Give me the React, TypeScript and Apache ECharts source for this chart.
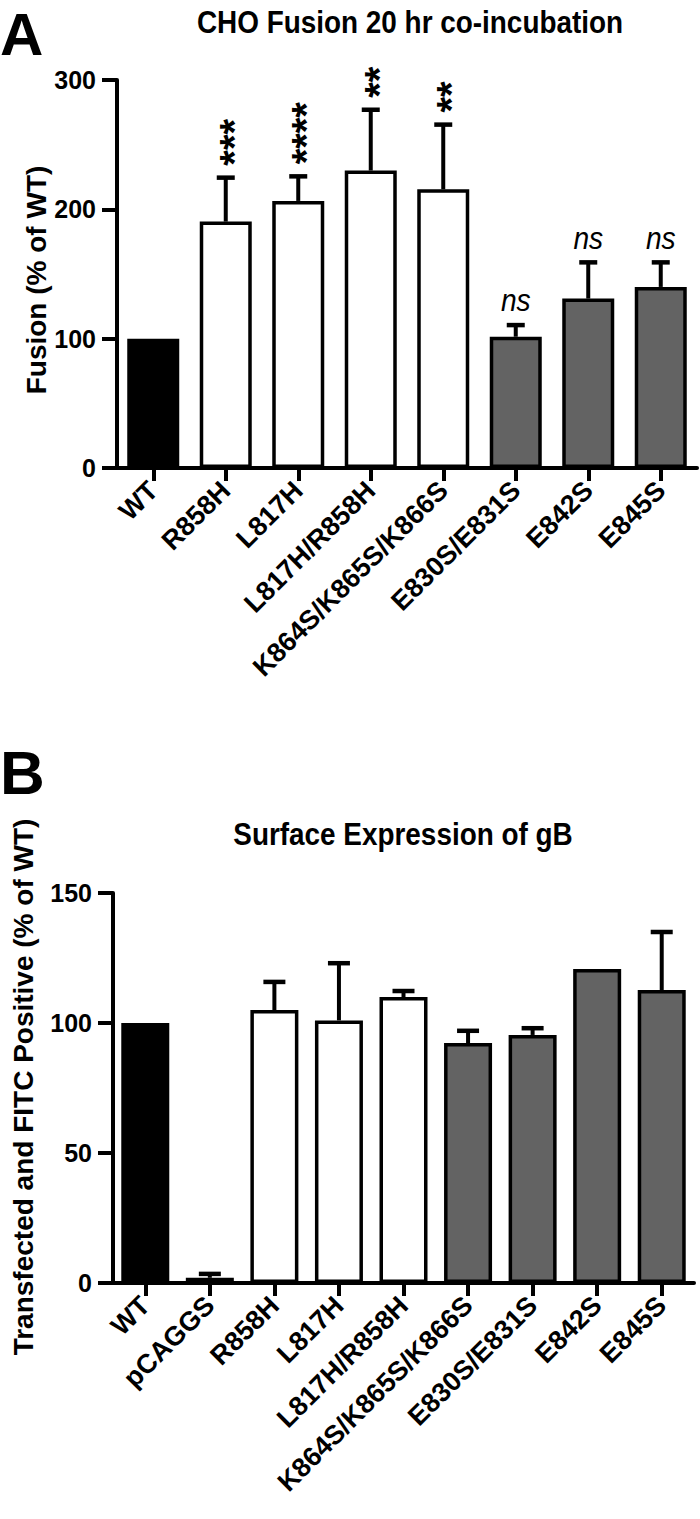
import React, { useEffect, useRef } from "react";
import * as echarts from "echarts";

// ---------- Panel A data ----------
const catsA = ["WT", "R858H", "L817H", "L817H/R858H", "K864S/K865S/K866S", "E830S/E831S", "E842S", "E845S"];
const valsA = [100, 190.5, 206.5, 230, 215.5, 101.5, 131, 140];
const errA = [0, 34, 19, 47, 50, 9, 28, 19];
const sigA = ["", "***", "****", "**", "**", "ns", "ns", "ns"];
const groupA = ["wt", "mut", "mut", "mut", "mut", "ser", "ser", "ser"];
const ticksA = { min: 0, max: 300, interval: 100 };

// ---------- Panel B data ----------
const catsB = ["WT", "pCAGGS", "R858H", "L817H", "L817H/R858H", "K864S/K865S/K866S", "E830S/E831S", "E842S", "E845S"];
const valsB = [100, 2, 105, 101, 110, 92.3, 95.4, 120.8, 112.7];
const errB = [0, 1.5, 10.8, 22, 2.3, 4.7, 2.6, 0, 22.3];
const groupB = ["wt", "mut", "mut", "mut", "mut", "ser", "ser", "ser", "ser"];
const ticksB = { min: 0, max: 150, interval: 50 };

const titleA = "CHO Fusion 20 hr co-incubation";
const titleB = "Surface Expression of gB";
const yNameA = "Fusion (% of WT)";
const yNameB = "Transfected and FITC Positive (% of WT)";

const FONT = "Liberation Sans, Arial, Helvetica, sans-serif";
const fillOf: Record<string, string> = { wt: "#000000", mut: "#ffffff", ser: "#636363" };

function xAxisCfg(cats: string[], gridIndex: number) {
  return {
    type: "category",
    gridIndex,
    data: cats,
    axisLine: { show: true, lineStyle: { color: "#000", width: 4 } },
    axisTick: { show: true, alignWithLabel: true, length: 13, lineStyle: { color: "#000", width: 4 } },
    axisLabel: {
      interval: 0,
      rotate: 45,
      margin: 18,
      color: "#000",
      fontSize: 27,
      fontWeight: "bold",
      fontFamily: FONT,
    },
  };
}

function yAxisCfg(t: { min: number; max: number; interval: number }, gridIndex: number) {
  return {
    type: "value",
    gridIndex,
    min: t.min,
    max: t.max,
    interval: t.interval,
    splitLine: { show: false },
    axisLine: { show: true, lineStyle: { color: "#000", width: 4 } },
    axisTick: { show: true, length: 15, lineStyle: { color: "#000", width: 4 } },
    axisLabel: { margin: 21, color: "#000", fontSize: 25, fontWeight: "bold", fontFamily: FONT },
  };
}

function barSeries(vals: number[], groups: string[], idx: number, barWidth: number) {
  return {
    type: "bar",
    xAxisIndex: idx,
    yAxisIndex: idx,
    barWidth,
    z: 2,
    data: vals.map((v, i) => ({
      value: v,
      itemStyle: { color: fillOf[groups[i]], borderColor: "#000", borderWidth: 3.5 },
    })),
  };
}

function errSeries(vals: number[], errs: number[], sigs: string[] | null, idx: number, capW: number) {
  return {
    type: "custom",
    xAxisIndex: idx,
    yAxisIndex: idx,
    z: 5,
    data: vals.map((v, i) => [i, v, errs[i]]),
    renderItem: (params: any, api: any) => {
      const i = api.value(0);
      const v = api.value(1);
      const e = api.value(2);
      const p0 = api.coord([i, v]);
      const p1 = api.coord([i, v + e]);
      const children: any[] = [];
      if (e > 0) {
        children.push({
          type: "line",
          shape: { x1: p0[0], y1: p0[1], x2: p0[0], y2: p1[1] },
          style: { stroke: "#000", lineWidth: 4 },
        });
        children.push({
          type: "line",
          shape: { x1: p0[0] - capW / 2, y1: p1[1], x2: p0[0] + capW / 2, y2: p1[1] },
          style: { stroke: "#000", lineWidth: 4.5 },
        });
      }
      const s = sigs ? sigs[params.dataIndex] : "";
      if (s) {
        if (s === "ns") {
          children.push({
            type: "text",
            x: p1[0],
            y: p1[1] - 9,
            scaleX: 0.88,
            style: {
              text: "ns",
              align: "center",
              verticalAlign: "bottom",
              fontSize: 32,
              fontStyle: "italic",
              fontFamily: FONT,
              fill: "#000",
            },
          });
        } else {
          children.push({
            type: "text",
            x: p1[0] + 8,
            y: p1[1] - 12,
            rotation: Math.PI / 2,
            style: {
              text: s,
              align: "left",
              verticalAlign: "middle",
              fontSize: 40,
              fontWeight: "bold",
              fontFamily: FONT,
              fill: "#000",
            },
          });
        }
      }
      return { type: "group", children };
    },
  };
}

export default function App() {
  const ref = useRef<HTMLDivElement>(null);
  useEffect(() => {
    document.body.style.margin = "0";
    if (!ref.current) return;
    const chart = echarts.init(ref.current, undefined, { renderer: "svg" });
    const txt = (text: string, x: number, y: number, size: number, extra: any = {}) => ({
      type: "text",
      x,
      y,
      rotation: extra.rotation || 0,
      scaleX: extra.scaleX || 1,
      style: {
        text,
        align: extra.align || "center",
        verticalAlign: "middle",
        fontSize: size,
        fontWeight: "bold",
        fontFamily: FONT,
        fill: "#000",
      },
    });
    chart.setOption({
      animation: false,
      backgroundColor: "#fff",
      grid: [
        { left: 117, top: 80, width: 580, height: 388 },
        { left: 113, top: 893, width: 581, height: 390 },
      ],
      xAxis: [xAxisCfg(catsA, 0), xAxisCfg(catsB, 1)],
      yAxis: [yAxisCfg(ticksA, 0), yAxisCfg(ticksB, 1)],
      series: [
        barSeries(valsA, groupA, 0, 52),
        errSeries(valsA, errA, sigA, 0, 18),
        barSeries(valsB, groupB, 1, 48),
        errSeries(valsB, errB, null, 1, 22),
      ],
      graphic: [
        txt("A", 0, 34, 60, { align: "left" }),
        txt("B", 0, 772, 62, { align: "left" }),
        txt(titleA, 410, 22, 31, { scaleX: 0.9 }),
        txt(titleB, 403, 834, 31, { scaleX: 0.9 }),
        txt(yNameA, 36, 280, 28, { rotation: Math.PI / 2 }),
        txt(yNameB, 23, 1087, 28, { rotation: Math.PI / 2 }),
      ],
    });
    return () => chart.dispose();
  }, []);
  return <div ref={ref} style={{ width: 700, height: 1519 }} />;
}
